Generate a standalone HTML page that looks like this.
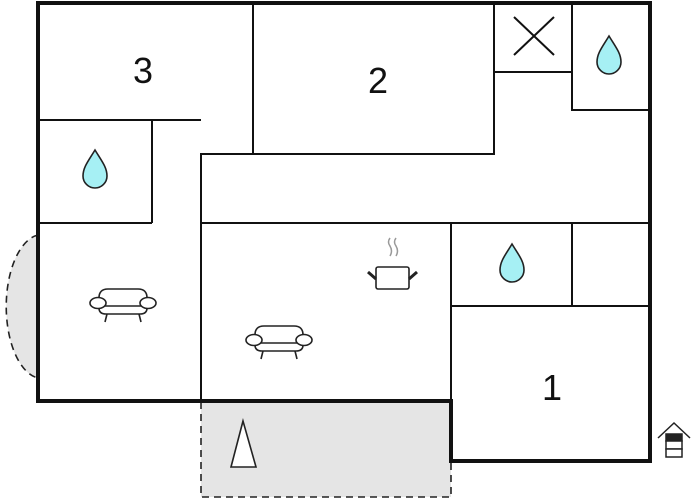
<!DOCTYPE html>
<html><head><style>body{margin:0;background:#fff}svg{display:block}</style></head><body>
<svg width="697" height="500" viewBox="0 0 697 500" xmlns="http://www.w3.org/2000/svg">
<defs>
<g id="drop"><path d="M0,-22 C6,-12 12,-5 12,4 A12,12 0 0 1 -12,4 C-12,-5 -6,-12 0,-22Z" fill="#a6f0f4" stroke="#222" stroke-width="1.6"/></g>
<g id="sofa" fill="#fff" stroke="#222" stroke-width="1.6"><path d="M-24,5 L-24,-5 Q-24,-14 -15,-14 L15,-14 Q24,-14 24,-5 L24,5 Q24,11 17,11 L-17,11 Q-24,11 -24,5Z"/><line x1="-22" y1="3" x2="22" y2="3"/><ellipse cx="-25" cy="0" rx="8" ry="5.5"/><ellipse cx="25" cy="0" rx="8" ry="5.5"/><line x1="-16" y1="11" x2="-18" y2="19"/><line x1="16" y1="11" x2="18" y2="19"/></g>
</defs>
<path d="M38,235 A36,72 0 0 0 38,378Z" fill="#e5e5e5" stroke="#222" stroke-width="1.6" stroke-dasharray="7,5"/>
<rect x="201" y="401" width="250" height="96" fill="#e5e5e5" stroke="#222" stroke-width="1.6" stroke-dasharray="7,5"/>
<g stroke="#111" stroke-width="2" fill="none">
<line x1="253" y1="3" x2="253" y2="154"/>
<line x1="38" y1="120" x2="201" y2="120"/>
<line x1="152" y1="120" x2="152" y2="223"/>
<line x1="38" y1="223" x2="152" y2="223"/>
<polyline points="201,401 201,154 494,154 494,3"/>
<polyline points="494,72 572,72"/>
<polyline points="572,3 572,110 650,110"/>
<line x1="201" y1="223" x2="650" y2="223"/>
<line x1="451" y1="223" x2="451" y2="401"/>
<line x1="451" y1="306" x2="650" y2="306"/>
<line x1="572" y1="223" x2="572" y2="306"/>
<line x1="514" y1="17" x2="554" y2="55"/><line x1="554" y1="17" x2="514" y2="55"/>
</g>
<path d="M38,3 L650,3 L650,461 L451,461 L451,401 L38,401Z" fill="none" stroke="#111" stroke-width="4"/>
<g font-family="Liberation Sans, sans-serif" font-size="36" text-anchor="middle" fill="#111">
<text x="143" y="83">3</text><text x="378" y="93">2</text><text x="552" y="400">1</text></g>
<use href="#drop" x="95" y="172"/><use href="#drop" x="609" y="58"/><use href="#drop" x="512" y="266"/>
<use href="#sofa" x="123" y="303"/><use href="#sofa" x="279" y="340"/>
<g stroke="#999" stroke-width="1.5" fill="none"><path d="M390,238 q-3,4 0,8 q3,5 0,10"/><path d="M396,238 q-3,4 0,8 q3,5 0,10"/></g>
<rect x="376" y="267" width="33" height="22" rx="2" fill="#fff" stroke="#222" stroke-width="1.6"/>
<line x1="368" y1="272" x2="376" y2="279" stroke="#222" stroke-width="3"/><line x1="417" y1="272" x2="409" y2="279" stroke="#222" stroke-width="3"/>
<polygon points="243,421 231,467 256,467" fill="#fff" stroke="#222" stroke-width="1.6"/>
<g stroke="#222" stroke-width="1.5" fill="#fff"><polyline points="658,438 674,423 690,438" fill="none"/><rect x="666" y="434" width="16" height="7" fill="#222"/><rect x="666" y="441" width="16" height="8"/><rect x="666" y="449" width="16" height="8"/></g>
</svg>
</body></html>
